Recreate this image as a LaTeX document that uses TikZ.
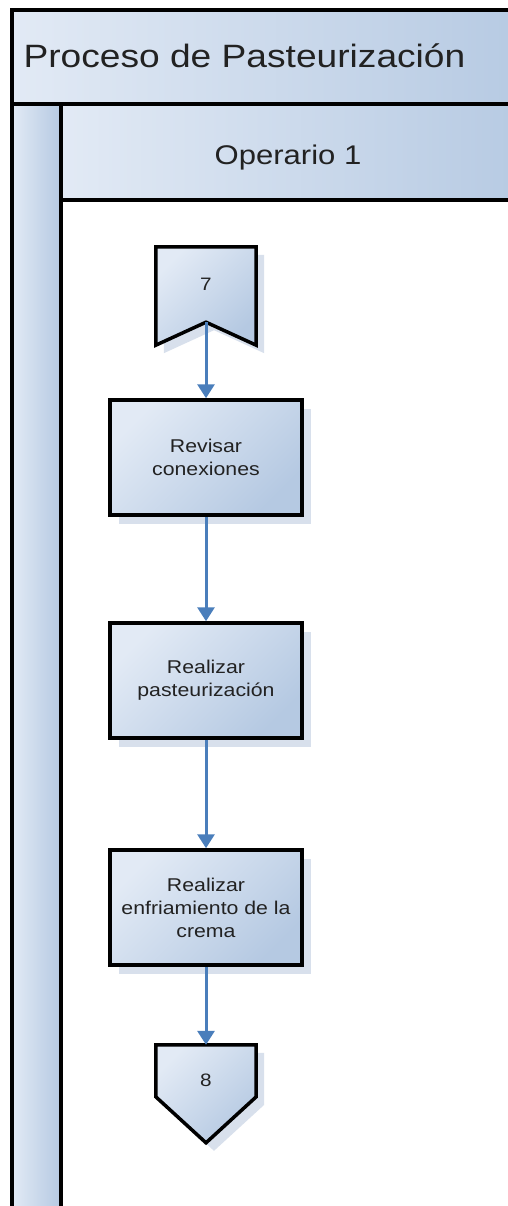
\documentclass[tikz,border=0pt]{standalone}
\usepackage{fontspec}
\setmainfont[FakeStretch=1.15]{Liberation Sans}
\usetikzlibrary{arrows.meta,calc,shadows}

\definecolor{ink}{HTML}{222222}
\definecolor{paleblue}{HTML}{E2EAF5}
\definecolor{midblue}{HTML}{B5C9E2}
\definecolor{shadowblue}{HTML}{D8E0EC}
\definecolor{flowblue}{HTML}{4A7EBB}

\tikzset{
  frameline/.style={draw=black, line width=3.5pt},
  bandfill/.style={left color=paleblue, right color=midblue},
  stepbox/.style={draw=black, line width=3.5pt, minimum width=192pt, minimum height=115pt,
    inner sep=2pt, top color=paleblue, bottom color=midblue, shading angle=45,
    align=center, text=ink, font=\fontsize{18.5}{23}\selectfont,
    drop shadow={shadow xshift=9pt, shadow yshift=-9pt, fill=shadowblue, opacity=1}},
  pagelabel/.style={minimum width=100pt, inner sep=0pt, text=ink,
    font=\fontsize{18}{22}\selectfont},
  pageshape/.style={draw=black, line width=3.5pt, line join=miter,
    top color=paleblue, bottom color=midblue, shading angle=45},
  pageshadow/.style={fill=shadowblue},
  flow/.style={draw=flowblue, line width=3pt, -{Triangle[width=17pt,length=14pt]}},
}

\begin{document}
\begin{tikzpicture}[x=1pt,y=-1pt]
  \useasboundingbox (0,0) rectangle (508,1206);
  \clip (0,0) rectangle (508,1206);
  \fill[white] (0,0) rectangle (508,1206);

  % pool title band and lane frame
  \path[bandfill, frameline] (12,10) rectangle (540,104);
  \node[anchor=base west, text=ink, font=\fontsize{32.3}{38}\selectfont]
    (pool) at (20,68) {Proceso de Pasteurización};
  \path[left color=paleblue, right color=midblue, frameline] (12,104) rectangle (61,1230);
  \path[bandfill, frameline] (61,104) rectangle (540,200);
  \node[anchor=base, text=ink, font=\fontsize{27}{32}\selectfont]
    (lane) at (288,165) {Operario 1};
  \path[fill=white, frameline] (61,200) rectangle (540,1230);

  % off-page connector 7
  \node[pagelabel, minimum height=75pt] (c7) at (206,284.5) {};
  \coordinate (c7tip) at ($(c7.south)$);
  \fill[pageshadow] ($(c7.north west)+(8,8)$) -- ($(c7.north east)+(8,8)$)
    -- ($(c7.south east)+(8,31)$) -- ($(c7tip)+(8,8)$) -- ($(c7.south west)+(8,31)$) -- cycle;
  \path[pageshape] (c7.north west) -- (c7.north east) -- ($(c7.south east)+(0,23)$)
    -- (c7tip) -- ($(c7.south west)+(0,23)$) -- cycle;
  \node[pagelabel] at (c7) {7};

  % process steps
  \node[stepbox] (b1) at (206,457.5) {Revisar\\conexiones};
  \node[stepbox] (b2) at (206,680.5) {Realizar\\pasteurización};
  \node[stepbox] (b3) at (206,907.5) {Realizar\\enfriamiento de la\\crema};

  % off-page connector 8
  \node[pagelabel, minimum height=70pt] (c8) at (206,1080) {};
  \coordinate (c8tip) at ($(c8.north)+(0,98)$);
  \fill[pageshadow] ($(c8.north west)+(8,8)$) -- ($(c8.north east)+(8,8)$)
    -- ($(c8.north east)+(8,60)$) -- ($(c8tip)+(8,8)$) -- ($(c8.north west)+(8,60)$) -- cycle;
  \path[pageshape] (c8.north west) -- (c8.north east) -- ($(c8.north east)+(0,52)$)
    -- (c8tip) -- ($(c8.north west)+(0,52)$) -- cycle;
  \node[pagelabel] at (c8) {8};

  % flow connectors
  \draw[flow] (c7tip) -- (b1.north);
  \draw[flow] (b1.south) -- (b2.north);
  \draw[flow] (b2.south) -- (b3.north);
  \draw[flow] (b3.south) -- (c8.north);
\end{tikzpicture}
\end{document}
